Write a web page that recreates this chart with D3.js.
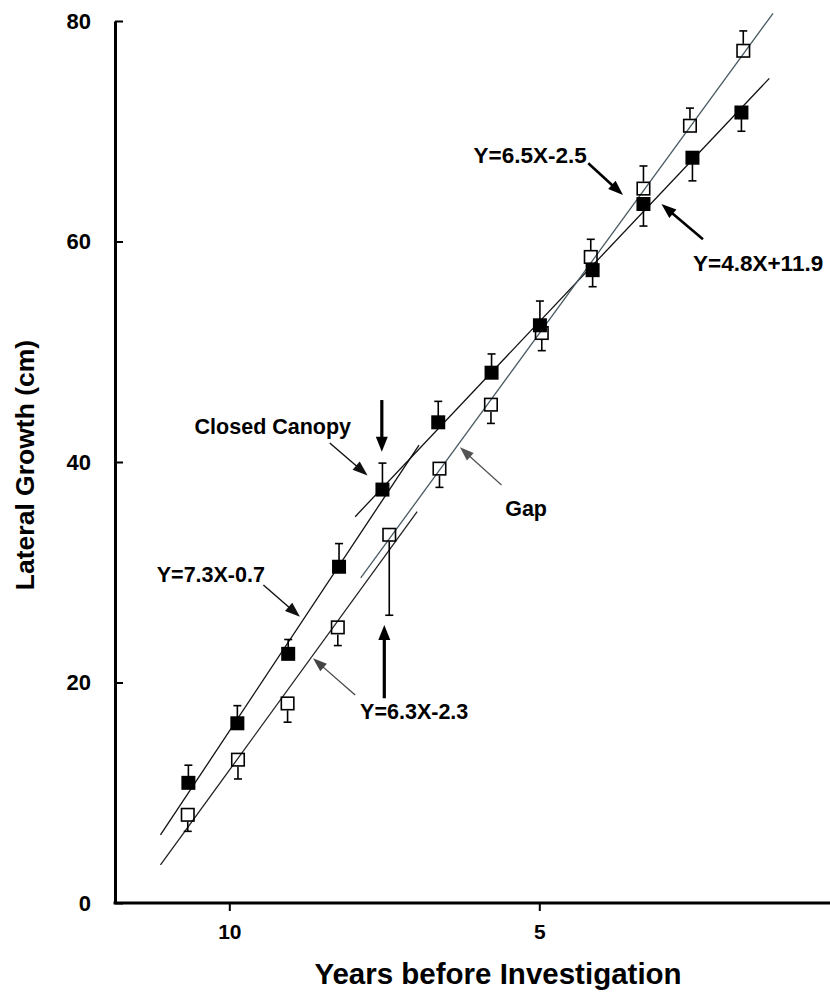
<!DOCTYPE html>
<html><head><meta charset="utf-8">
<script src="https://cdn.jsdelivr.net/npm/d3@7"></script>
<style>body{margin:0;background:#fff}</style>
</head><body>
<svg id="chart" width="830" height="994"></svg>
<script>
// ---- data ----
const closedYears  = [10.66, 9.87, 9.05, 8.23, 7.53, 6.63, 5.77, 4.99, 4.14, 3.32, 2.53, 1.74];
const closedValues = [10.9, 16.3, 22.6, 30.5, 37.5, 43.6, 48.1, 52.4, 57.4, 63.4, 67.6, 71.7];
const closedErrors = [1.6, 1.6, 1.3, 2.1, 2.4, 1.9, 1.7, 2.2, 1.5, 2.0, 2.1, 1.7];
const closedErrorSide = ["up","up","up","up","up","up","up","up","down","down","down","down"];

const gapYears  = [10.67, 9.86, 9.06, 8.25, 7.42, 6.61, 5.78, 4.96, 4.17, 3.32, 2.57, 1.71];
const gapValues = [8.0, 13.0, 18.1, 25.0, 33.4, 39.4, 45.2, 51.7, 58.6, 64.8, 70.5, 77.3];
const gapErrors = [1.5, 1.75, 1.7, 1.65, 7.3, 1.7, 1.7, 1.6, 1.6, 2.05, 1.6, 1.8];
const gapErrorSide = ["down","down","down","down","down","down","down","down","up","up","up","up"];

// fitted regression segments (start / end)
const fitNames       = ["Closed early", "Closed late", "Gap early", "Gap late"];
const fitStartYears  = [11.11, 7.97, 11.11, 7.88];
const fitStartValues = [6.17, 35.04, 3.45, 29.48];
const fitEndYears    = [6.94, 1.29, 6.97, 1.23];
const fitEndValues   = [41.54, 74.80, 35.49, 80.70];

const xTickValues = [10, 5];
const yTickValues = [0, 20, 40, 60, 80];

const noteTexts  = ["Closed Canopy", "Gap", "Y=7.3X-0.7", "Y=6.3X-2.3", "Y=6.5X-2.5", "Y=4.8X+11.9"];
const noteYears  = [10.56, 5.55, 11.17, 7.89, 6.06, 2.52];
const noteValues = [42.54, 35.10, 29.12, 16.69, 67.12, 57.28];

const arrowFromYears  = [8.38, 7.54, 5.61, 9.45, 7.97, 7.50, 4.21, 2.36];
const arrowFromValues = [41.72, 45.62, 37.91, 28.84, 18.87, 18.57, 67.09, 60.20];
const arrowToYears    = [7.77, 7.54, 6.28, 8.86, 8.65, 7.50, 3.65, 3.03];
const arrowToValues   = [38.78, 40.93, 41.33, 25.97, 22.20, 25.22, 64.22, 63.40];

// ---- styles ----
const FONT = "'Liberation Sans', Arial, Helvetica, sans-serif";
const noteSizes = [21.5, 21.5, 21.5, 21.5, 22.5, 22.5];
const arrowStyles = [
  {w:1.4, len:15, hw:11, c:"#111"},
  {w:3.2, len:15, hw:12, c:"#000"},
  {w:1.3, len:14, hw:10, c:"#555"},
  {w:1.4, len:15, hw:11, c:"#111"},
  {w:1.3, len:14, hw:10, c:"#444"},
  {w:3.2, len:15, hw:12, c:"#000"},
  {w:2.6, len:15, hw:11, c:"#000"},
  {w:2.6, len:15, hw:11, c:"#000"}
];
const fitColors = ["#111", "#111", "#222", "#4a5a62"];

const svg = d3.select("#chart");
const x = d3.scaleLinear().domain([12, 0]).range([105.3, 849.3]);
const y = d3.scaleLinear().domain([0, 80]).range([903, 21]);

// ---- axes ----
const yAxis = svg.append("g").attr("transform", "translate(115,0)")
  .call(d3.axisLeft(y).tickValues(yTickValues).tickSize(-8).tickSizeOuter(0).tickPadding(24));
yAxis.select(".domain").attr("stroke", "#000").attr("stroke-width", 3);
yAxis.selectAll(".tick line").attr("stroke", "#000").attr("stroke-width", 2);
yAxis.selectAll(".tick text").attr("font-family", FONT).attr("font-weight", "bold")
  .attr("font-size", 22).attr("fill", "#000");

const xAxis = svg.append("g").attr("transform", "translate(0,903)")
  .call(d3.axisBottom(x).tickValues(xTickValues).tickSize(8).tickPadding(13).tickFormat(d3.format("d")));
xAxis.select(".domain").remove();
xAxis.selectAll(".tick line").attr("stroke", "#000").attr("stroke-width", 2);
xAxis.selectAll(".tick text").attr("font-family", FONT).attr("font-weight", "bold")
  .attr("font-size", 21).attr("fill", "#000");
svg.append("line").attr("x1", 113.5).attr("x2", 830).attr("y1", 903).attr("y2", 903)
  .attr("stroke", "#000").attr("stroke-width", 3);

// axis titles
svg.append("text").attr("x", 498).attr("y", 984).attr("text-anchor", "middle")
  .attr("font-family", FONT).attr("font-weight", "bold").attr("font-size", 29.5)
  .text("Years before Investigation");
svg.append("text").attr("transform", "translate(34,465) rotate(-90)").attr("text-anchor", "middle")
  .attr("font-family", FONT).attr("font-weight", "bold").attr("font-size", 26.5)
  .text("Lateral Growth (cm)");

// ---- fit lines ----
svg.append("g").selectAll("line").data(fitNames).join("line")
  .attr("x1", (d, i) => x(fitStartYears[i])).attr("y1", (d, i) => y(fitStartValues[i]))
  .attr("x2", (d, i) => x(fitEndYears[i])).attr("y2", (d, i) => y(fitEndValues[i]))
  .attr("stroke", (d, i) => fitColors[i]).attr("stroke-width", 1.3);

// ---- error bars & squares ----
const SQ = 14, CAP = 4;
function drawSeries(years, values, errors, sides, filled) {
  const g = svg.append("g");
  const data = years.map((yr, i) => ({yr, v: values[i], e: errors[i], s: sides[i]}));
  data.forEach(d => {
    const cx = x(d.yr), cy = y(d.v);
    const end = d.s === "up" ? y(d.v + d.e) : y(d.v - d.e);
    const start = filled ? cy : (d.s === "up" ? cy - SQ / 2 : cy + SQ / 2);
    g.append("line").attr("x1", cx).attr("x2", cx).attr("y1", start).attr("y2", end)
      .attr("stroke", "#000").attr("stroke-width", 1.6);
    g.append("line").attr("x1", cx - CAP).attr("x2", cx + CAP).attr("y1", end).attr("y2", end)
      .attr("stroke", "#000").attr("stroke-width", 1.6);
  });
  g.selectAll("rect").data(data).join("rect")
    .attr("x", d => x(d.yr) - SQ / 2 + (filled ? 0 : 0.75))
    .attr("y", d => y(d.v) - SQ / 2 + (filled ? 0 : 0.75))
    .attr("width", filled ? SQ : SQ - 1.5).attr("height", filled ? SQ : SQ - 1.5)
    .attr("fill", filled ? "#000" : "none")
    .attr("stroke", filled ? "none" : "#000").attr("stroke-width", 1.6);
}
drawSeries(gapYears, gapValues, gapErrors, gapErrorSide, false);
drawSeries(closedYears, closedValues, closedErrors, closedErrorSide, true);

// ---- annotations ----
const ag = svg.append("g");
arrowFromYears.forEach((fy, i) => {
  const st = arrowStyles[i];
  const x1 = x(fy), y1 = y(arrowFromValues[i]);
  const x2 = x(arrowToYears[i]), y2 = y(arrowToValues[i]);
  const ang = Math.atan2(y2 - y1, x2 - x1);
  const bx = x2 - st.len * Math.cos(ang), by = y2 - st.len * Math.sin(ang);
  ag.append("line").attr("x1", x1).attr("y1", y1).attr("x2", bx + Math.cos(ang) * 2).attr("y2", by + Math.sin(ang) * 2)
    .attr("stroke", st.c).attr("stroke-width", st.w);
  const px = -Math.sin(ang), py = Math.cos(ang);
  const pts = [[x2, y2], [bx + px * st.hw / 2, by + py * st.hw / 2], [bx - px * st.hw / 2, by - py * st.hw / 2]];
  ag.append("polygon").attr("points", pts.map(p => p.join(",")).join(" ")).attr("fill", st.c);
});

svg.append("g").selectAll("text").data(noteTexts).join("text")
  .attr("x", (d, i) => x(noteYears[i])).attr("y", (d, i) => y(noteValues[i]))
  .attr("font-family", FONT).attr("font-weight", "bold").attr("font-size", (d, i) => noteSizes[i])
  .attr("fill", "#000").text(d => d);
</script>
</body></html>
